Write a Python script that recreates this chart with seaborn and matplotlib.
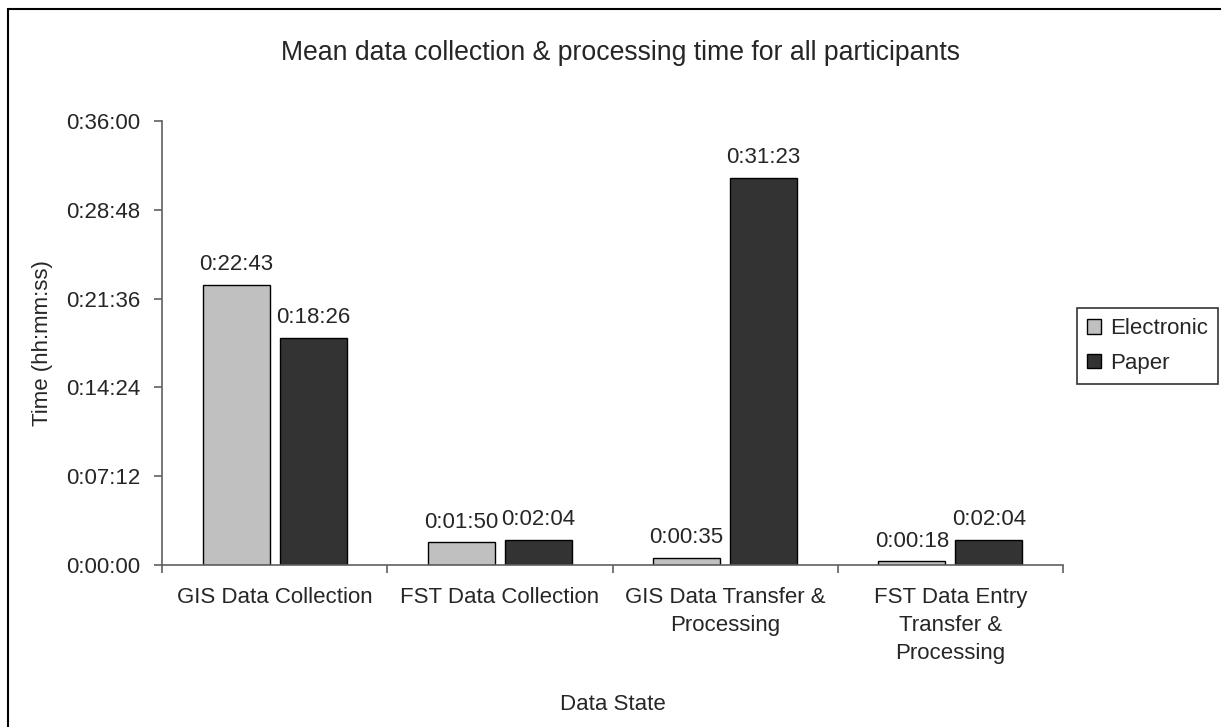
import matplotlib
matplotlib.use('Agg')
import matplotlib.pyplot as plt
import matplotlib.ticker as mticker
from matplotlib.patches import Rectangle
import seaborn as sns
import pandas as pd

# data, times in seconds
categories = ['GIS Data Collection', 'FST Data Collection',
              'GIS Data Transfer &\nProcessing', 'FST Data Entry\nTransfer &\nProcessing']
electronic = [22 * 60 + 43, 1 * 60 + 50, 35, 18]
paper = [18 * 60 + 26, 2 * 60 + 4, 31 * 60 + 23, 2 * 60 + 4]
series = ['Electronic', 'Paper']
colors = ['#c0c0c0', '#333333']


def fmt_time(sec, pos=None):
    sec = int(round(sec))
    return f"{sec // 3600}:{(sec % 3600) // 60:02d}:{sec % 60:02d}"


df = pd.DataFrame({
    'state': categories * 2,
    'time': electronic + paper,
    'type': [series[0]] * 4 + [series[1]] * 4,
})

sns.set_style('white')
plt.rcParams['font.family'] = ['Liberation Sans', 'DejaVu Sans']
fs = 16

fig = plt.figure(figsize=(12.21, 7.27), dpi=100)
ax = fig.add_axes([162 / 1221, 1 - 565 / 727, (1063 - 162) / 1221, (565 - 121) / 727])

sns.barplot(data=df, x='state', y='time', hue='type', palette=colors,
            width=0.684, gap=0.13, edgecolor='black', linewidth=1,
            saturation=1, ax=ax, legend=True)

for cont, vals in zip(ax.containers, [electronic, paper]):
    ax.bar_label(cont, labels=[fmt_time(v) for v in vals], padding=7, fontsize=fs)

ax.set_ylim(0, 2160)
ax.yaxis.set_major_locator(mticker.MultipleLocator(432))
ax.yaxis.set_major_formatter(mticker.FuncFormatter(fmt_time))
ax.set_xlim(-0.5, 3.5)
ax.set_xticks(range(4))
ax.set_xticklabels(categories, fontsize=fs, linespacing=1.42)
ax.set_xticks([-0.5, 0.5, 1.5, 2.5, 3.5], minor=True)
ax.tick_params(axis='x', which='major', bottom=True, length=0, pad=16)
ax.tick_params(axis='x', which='minor', bottom=True, length=5.5, width=1.2,
               color='#606060', direction='out')
ax.tick_params(axis='y', left=True, length=5.5, width=1.2, color='#606060',
               direction='out', labelsize=fs, pad=10.3)

for s in ['top', 'right']:
    ax.spines[s].set_visible(False)
for s in ['left', 'bottom']:
    ax.spines[s].set_color('#606060')
    ax.spines[s].set_linewidth(1.2)

ax.set_xlabel('Data State', fontsize=fs)
ax.set_ylabel('Time (hh:mm:ss)', fontsize=fs)
ax.xaxis.set_label_coords(0.5, -0.29)
ax.yaxis.set_label_coords(-0.121, 0.5)
fig.suptitle('Mean data collection & processing time for all participants',
             fontsize=19.2, x=0.508, y=1 - 53 / 727, va='center')

leg = ax.legend(loc='center left', bbox_to_anchor=(1077 / 1221, 1 - 346 / 727),
                bbox_transform=fig.transFigure, fontsize=fs, frameon=True,
                fancybox=False, edgecolor='black', handlelength=0.63, handleheight=0.63,
                handletextpad=0.4, labelspacing=0.6, borderpad=0.45, borderaxespad=0)
leg.get_frame().set_linewidth(1.2)

fig.patches.append(Rectangle((8 / 1221, -0.1), 1.2, 1.1 - 9 / 727,
                             transform=fig.transFigure, fill=False,
                             edgecolor='black', linewidth=1.5))

fig.savefig('out.png', dpi=100)
